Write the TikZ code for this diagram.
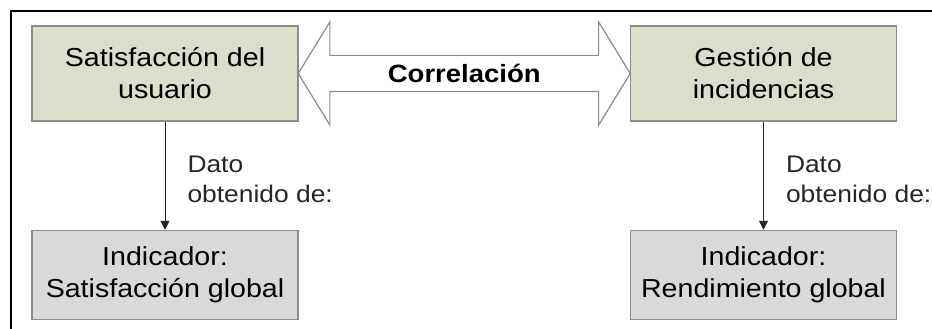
\documentclass[tikz,border=0pt]{standalone}
\usepackage{fontspec}
\setmainfont[FakeStretch=1.1]{Liberation Sans}
\usetikzlibrary{arrows.meta,calc,positioning,shapes.arrows}
\definecolor{boxgreen}{HTML}{DCDEC9}
\definecolor{boxgray}{HTML}{D9D9D9}
\definecolor{edgegray}{HTML}{8C8C8C}
\tikzset{
    %Define standard arrow tip
    >={Triangle[length=9pt,width=9pt]},
    %Define style for boxes
    concepto/.style={
           rectangle,
           draw=edgegray, line width=1.5pt,
           fill=boxgreen,
           minimum width=266pt,
           minimum height=95pt,
           align=center,
           font=\fontsize{26}{32}\selectfont},
    indicador/.style={
           concepto,
           fill=boxgray,
           minimum height=89pt},
    correl/.style={
           double arrow,
           draw=edgegray, line width=1.2pt,
           fill=white,
           minimum height=332pt,
           double arrow head extend=33.5pt,
           double arrow tip angle=117,
           inner xsep=0pt, inner ysep=4pt,
           text height=22pt, text depth=5pt,
           font=\bfseries\fontsize{25}{28}\selectfont},
    dato/.style={
           align=left,
           inner sep=0pt,
           font=\fontsize{24}{30}\selectfont},
    % Define arrow style
    pil/.style={
           ->,
           line width=1pt,
           black!85}
}
\begin{document}
\begin{tikzpicture}[x=1pt,y=-1pt,node distance=108pt and 331pt]
\useasboundingbox (0,0) rectangle (932,329);
\draw[line width=2.5pt] (11,329) -- (11,11) -- (932,11);
 %nodes
\node[concepto](usuario) at (165,73.5){Satisfacción del\\usuario};
\node[concepto, right=of usuario](gestion){Gestión de\\incidencias};
\node[indicador, below=of usuario](indsat){Indicador:\\Satisfacción global};
\node[indicador, below=of gestion](indrend){Indicador:\\Rendimiento global};
\node[correl] (corr) at ($(usuario.east)!0.5!(gestion.west)$) {Correlación};
 \draw[pil] (usuario) -- node[dato, right=22pt, yshift=-4pt]{Dato\\obtenido de:} (indsat);
 \draw[pil] (gestion) -- node[dato, right=22pt, yshift=-4pt]{Dato\\obtenido de:} (indrend);
\end{tikzpicture}
\end{document}
